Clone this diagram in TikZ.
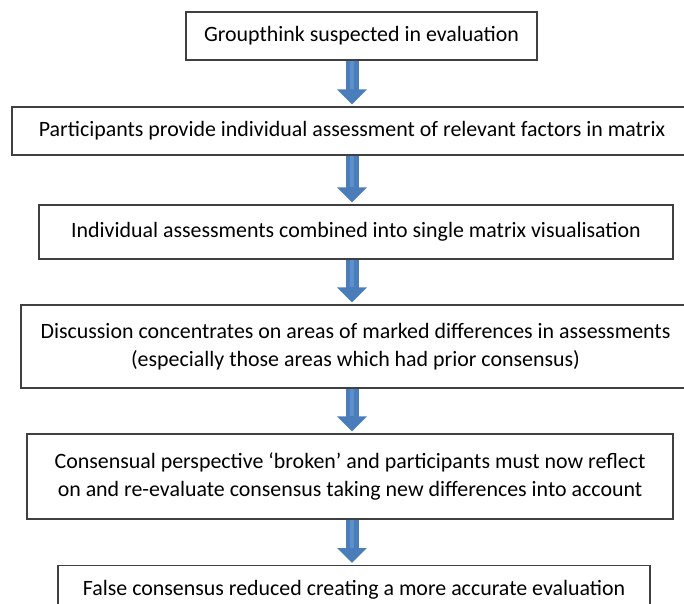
\documentclass[tikz,border=0pt]{standalone}
\usepackage{fontspec}
\setmainfont{Carlito}
\usetikzlibrary{arrows.meta}
\definecolor{boxline}{HTML}{404040}
\definecolor{arrowblue}{HTML}{4A7EBB}
\definecolor{arrowlight}{HTML}{5E90CC}
\tikzset{
  stepbox/.style={draw=boxline, line width=1.3pt, fill=white, inner sep=0pt, align=center,
    font=\fontsize{21.9}{28.5}\selectfont, text=black},
  bigarrow/.style={draw=arrowblue, line width=13pt, -{Triangle[length=15pt,width=29pt,fill=arrowblue]}},
  shaftlight/.style={draw=arrowlight, line width=4pt}
}
\begin{document}
\begin{tikzpicture}[x=1pt,y=-1pt]
\useasboundingbox (0,0) rectangle (684,603);
\clip (0,0) rectangle (684,603);
\fill[white] (0,0) rectangle (684,603);
\node[stepbox, minimum width=351pt, minimum height=48pt] (b1) at (361.5,36) {Groupthink suspected in evaluation};
\node[stepbox, minimum width=680pt, minimum height=48pt] (b2) at (352,131) {Participants provide individual assessment of relevant factors in matrix};
\node[stepbox, minimum width=634pt, minimum height=54pt] (b3) at (356,232) {Individual assessments combined into single matrix visualisation};
\node[stepbox, minimum width=669pt, minimum height=83pt] (b4) at (355.5,346.5) {Discussion concentrates on areas of marked differences in assessments\\(especially those areas which had prior consensus)};
\node[stepbox, minimum width=646pt, minimum height=85pt] (b5) at (350,476.5) {Consensual perspective ‘broken’ and participants must now reflect\\on and re-evaluate consensus taking new differences into account};
\node[stepbox, minimum width=592pt, minimum height=49pt, anchor=north] (b6) at (354,565) {False consensus reduced creating a more accurate evaluation};
\foreach \a/\b in {b1/b2,b2/b3,b3/b4,b4/b5,b5/b6}{
  \draw[bigarrow] ([yshift=-0.7pt]\a.south -| 352,0) -- ([yshift=2pt]\b.north -| 352,0);
  \draw[shaftlight] ([yshift=-0.7pt]\a.south -| 352,0) -- ([yshift=17pt]\b.north -| 352,0);
}
\end{tikzpicture}
\end{document}
